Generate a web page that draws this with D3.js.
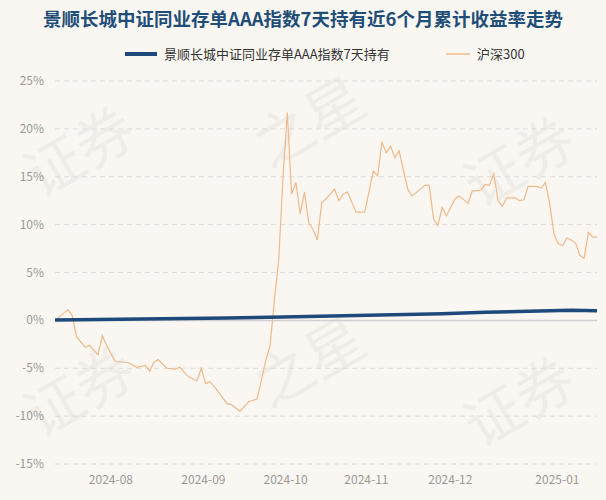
<!DOCTYPE html><html><head><meta charset="utf-8"><script src="https://cdn.jsdelivr.net/npm/d3@7"></script>
<style>body{margin:0;background:#faf7f2}</style></head><body><svg id="c" width="606" height="500"></svg>
<script>
const title="景顺长城中证同业存单AAA指数7天持有近6个月累计收益率走势";
const seriesNames=["景顺长城中证同业存单AAA指数7天持有","沪深300"];
const hsIdx=[0,3,4,5,7,8,10,11,12,14,17,19,21,22,23,24,26,28,29,31,33,34,35,36,37,40,41,43,45,47,49,50,51,52,53,54,55,56,57,58,59,60,61,62,63,65,66,67,68,70,72,74,75,76,77,78,79,80,82,83,86,87,88,89,90,91,93,94,96,97,99,100,101,102,103,104,105,107,108,109,110,112,113,114,115,116,117,118,119,120,121,122,123,124,125,126];
const hsVal=[0,1.1,0.5,-1.7,-2.8,-2.6,-3.6,-1.6,-2.6,-4.3,-4.4,-4.9,-4.7,-5.3,-4.4,-4.1,-5.0,-5.1,-4.9,-5.9,-6.3,-5.0,-6.6,-6.4,-6.9,-8.7,-8.8,-9.5,-8.5,-8.2,-4.2,-2.6,2.1,6.3,14.9,21.7,13.2,14.4,11.1,13.4,10.2,9.5,8.4,12.3,12.7,13.7,12.5,13.2,13.4,11.3,11.3,15.6,15.1,18.6,17.5,18.2,17.0,17.7,13.7,13.0,14.1,14.1,10.6,9.9,11.8,10.9,12.7,13.0,12.2,13.5,13.6,14.2,14.1,15.3,12.5,11.9,12.8,12.8,12.5,12.6,14.0,14.0,13.8,14.4,12.2,9.0,8.0,7.8,8.6,8.4,8.1,6.8,6.5,9.2,8.7,8.7];
const fundIdx=[0,20,40,53,70,90,100,110,120,126];
const fundVal=[0.05,0.15,0.25,0.35,0.5,0.7,0.85,0.95,1.05,1.0];
const yTicks=[-15,-10,-5,0,5,10,15,20,25];
const xTickIdx=[13,34.5,53.6,72.4,91.9,116.8];
const xTickLabels=["2024-08","2024-09","2024-10","2024-11","2024-12","2025-01"];
const svg=d3.select("#c"),F="'Noto Sans CJK SC','Noto Sans',sans-serif";
svg.append("rect").attr("width",606).attr("height",500).attr("fill","#faf7f2");
[[90,170,"证券"],[320,140,"之星"],[530,180,"证券"],[90,410,"证券"],[320,380,"之星"],[530,420,"证券"]].forEach(([x,y,t])=>svg.append("text").attr("transform",`translate(${x},${y}) rotate(-30)`).attr("text-anchor","middle").attr("font-size",58).attr("font-family",F).attr("fill","#000").attr("opacity",0.035).text(t));
const x=d3.scaleLinear().domain([0,126]).range([55,597]);
const y=d3.scaleLinear().domain([-15,25]).range([464,81]);
svg.append("g").selectAll("line").data(yTicks.filter(d=>d!==0)).join("line").attr("x1",55).attr("x2",597).attr("y1",d=>y(d)).attr("y2",d=>y(d)).attr("stroke","#dcdcdc").attr("stroke-dasharray","5,4");
svg.append("line").attr("x1",55).attr("x2",597).attr("y1",y(0)).attr("y2",y(0)).attr("stroke","#cfcfcf").attr("stroke-width",1.5);
svg.append("g").selectAll("text").data(yTicks).join("text").attr("x",44).attr("y",d=>y(d)+4).attr("text-anchor","end").attr("font-size",12).attr("font-family",F).attr("fill","#999").text(d=>d+"%");
svg.append("g").selectAll("text").data(xTickIdx).join("text").attr("x",d=>x(d)).attr("y",484).attr("text-anchor","middle").attr("font-size",12).attr("font-family",F).attr("fill","#999").text((d,i)=>xTickLabels[i]);
const ln=d3.line().x(d=>x(d[0])).y(d=>y(d[1]));
svg.append("path").attr("d",ln(hsIdx.map((d,i)=>[d,hsVal[i]]))).attr("fill","none").attr("stroke","#f0b98a").attr("stroke-width",1.2);
svg.append("path").attr("d",ln(fundIdx.map((d,i)=>[d,fundVal[i]]))).attr("fill","none").attr("stroke","#1d4a7a").attr("stroke-width",3.5);
svg.append("text").attr("x",303).attr("y",26).attr("text-anchor","middle").attr("font-size",18.5).attr("font-weight","bold").attr("font-family",F).attr("fill","#1f4e79").text(title);
svg.append("line").attr("x1",125).attr("x2",157).attr("y1",54).attr("y2",54).attr("stroke","#1d4a7a").attr("stroke-width",4);
svg.append("text").attr("x",164).attr("y",59).attr("font-size",13).attr("font-family",F).attr("fill","#333").text(seriesNames[0]);
svg.append("line").attr("x1",446).attr("x2",470).attr("y1",54).attr("y2",54).attr("stroke","#f0b98a").attr("stroke-width",1.5);
svg.append("text").attr("x",477).attr("y",59).attr("font-size",13).attr("font-family",F).attr("fill","#333").text(seriesNames[1]);
</script></body></html>
